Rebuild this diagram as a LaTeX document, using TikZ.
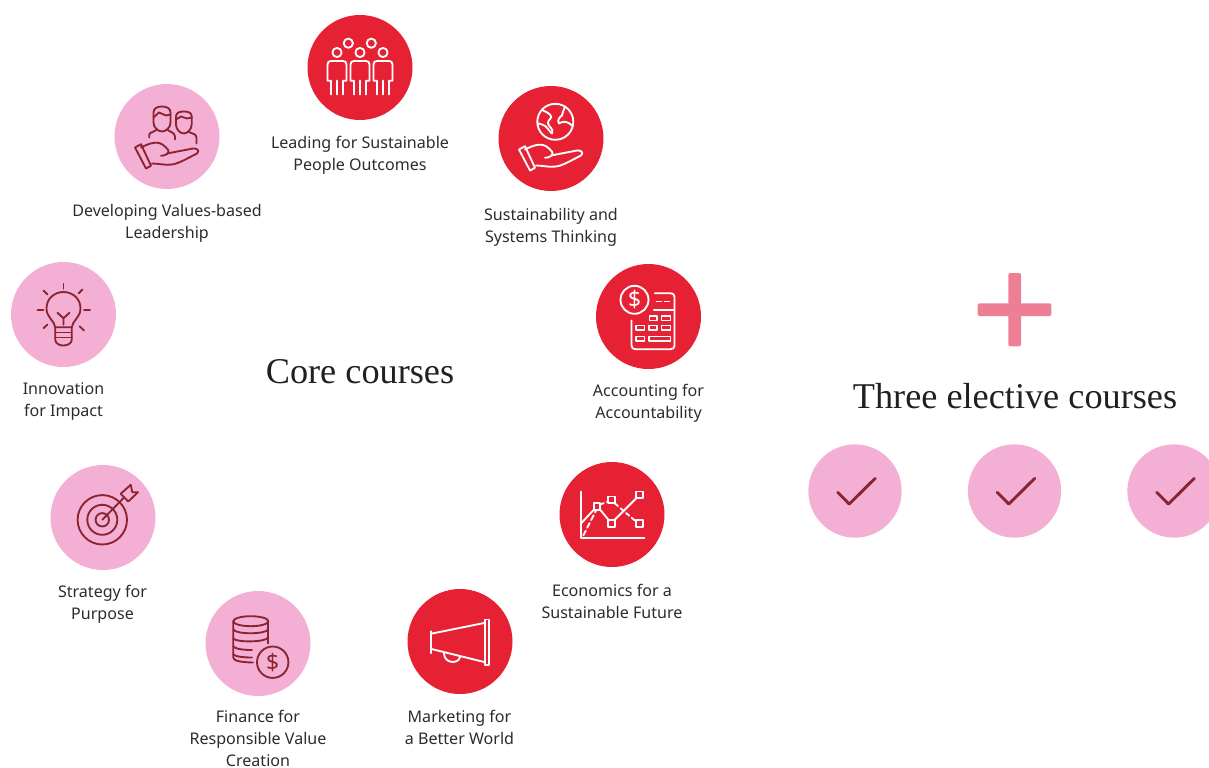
\documentclass[tikz,border=0pt]{standalone}
\usepackage{fontspec}
\setmainfont{Liberation Serif}
\setsansfont{Noto Sans}
\usetikzlibrary{positioning}
\definecolor{corered}{HTML}{E62134}
\definecolor{corepink}{HTML}{F4B0D4}
\definecolor{plusrose}{HTML}{EE7E95}
\definecolor{icondark}{HTML}{8C2330}
\definecolor{labelgrey}{HTML}{2C2C2E}
\definecolor{titleblack}{HTML}{231F20}

\tikzset{
	redcircle/.style={circle, fill=corered, minimum size=78.75pt, inner sep=0pt},
	pinkcircle/.style={circle, fill=corepink, minimum size=78.75pt, inner sep=0pt},
	tickcircle/.style={circle, fill=corepink, minimum size=70pt, inner sep=0pt},
	coursetext/.style={align=center, inner sep=0pt, text=labelgrey, font=\sffamily\fontsize{12.05}{16.5}\selectfont},
	titletext/.style={text=titleblack, font=\rmfamily\fontsize{27.2}{30}\selectfont},
	whiteicon/.style={color=white, line width=1.4pt, line join=round, line cap=round},
	darkicon/.style={color=icondark, line width=1.4pt, line join=round, line cap=round},
	hand/.pic={
		\draw (-32,11)--(-26,7.7)--(-16,29.3)--(-21,32)--cycle;
		\draw (-26,11) .. controls (-18,7) and (-9,3) .. (-2,10) .. controls (0,12) and (3,14) .. (0.7,17) .. controls (-1,19) and (-4,19) .. (-6,19.3);
		\draw (0,17)--(26,12) .. controls (30,11.5) and (33,14) .. (30,17) .. controls (20,22) and (12,27) .. (5,28) .. controls (-2,29) and (-8,27) .. (-15,27);
	},
	dollar/.pic={
		\draw (0,0) circle (#1);
		\node[inner sep=0pt, font=\sffamily\fontsize{17}{17}\selectfont] (-sign) at (0,0) {\$};
	},
	people/.pic={
		\foreach \x in {-23,0,23}{
			\draw (\x,-15) circle (4.6);
			\draw (\x-6,27)--(\x-6,13.3)--(\x-9.5,13.3)--(\x-9.5,-3) .. controls (\x-9.5,-5.5) and (\x-8,-6.5) .. (\x-6,-6.5)--(\x+6,-6.5) .. controls (\x+8,-6.5) and (\x+9.5,-5.5) .. (\x+9.5,-3)--(\x+9.5,13.3)--(\x+6,13.3)--(\x+6,27);
			\draw (\x,13)--(\x,27);
		}
		\draw (-11.7,-24.3) circle (4.6);
		\draw (11.3,-24.3) circle (4.6);
	},
	leaders/.pic={
		\draw (-13.5,-14)--(-13.5,-24) .. controls (-13.5,-28) and (-10,-30) .. (-5,-30) .. controls (0,-30) and (3.5,-28) .. (3.5,-24)--(3.5,-14) .. controls (3.5,-9) and (-1,-5) .. (-5,-5) .. controls (-9,-5) and (-13.5,-9) .. (-13.5,-14);
		\draw (-13.5,-19)--(-8,-24)--(-1,-21)--(3.5,-22);
		\draw (-17.7,1)--(-17.7,-2) .. controls (-17.7,-4) and (-12,-5) .. (-10,-7);
		\draw (0,-7) .. controls (2,-5) and (8,-4) .. (8,0)--(8,3);
		\draw (9,-12)--(9,-20) .. controls (9,-24) and (13,-25) .. (17,-25) .. controls (21,-25) and (24.7,-24) .. (24.7,-20)--(24.7,-12) .. controls (24.7,-7) and (20,-3) .. (17,-3) .. controls (13,-3) and (9,-7) .. (9,-12);
		\draw (9,-17)--(14,-20)--(20,-18)--(24.7,-19);
		\draw (21,-5) .. controls (24,-3) and (29.5,-3) .. (29.5,1)--(29.5,7);
		\pic {hand};
	},
	globe/.pic={
		\draw (4.3,-16.7) circle (18);
		\draw (-9,-29) .. controls (-6,-26) and (-3,-27) .. (-1,-24) .. controls (3,-20) and (-4,-19) .. (-3,-15) .. controls (-2,-11) and (3,-10) .. (1,-5);
		\draw (1,-5) .. controls (-2,-7) and (-4,-13) .. (-9,-14) .. controls (-11,-14.5) and (-12,-15) .. (-13,-15);
		\draw (14,-32) .. controls (13,-28) and (11,-26) .. (11,-23) .. controls (8,-21) and (6,-18) .. (8,-15) .. controls (12,-18) and (17,-17) .. (21,-13);
		\pic {hand};
	},
	calculator/.pic={
		\pic at (-14,-16.7) {dollar=14};
		\draw (6.3,-23.3)--(22,-23.3) .. controls (24.5,-23.3) and (26,-22) .. (26,-19.5)--(26,29) .. controls (26,31.5) and (24.5,32.7) .. (22,32.7)--(-13,32.7) .. controls (-15.5,32.7) and (-17,31.5) .. (-17,29)--(-17,4);
		\draw (5.3,-6.7)--(26,-6.7);
		\draw (8,-15)--(12.7,-15) (16,-15)--(20.7,-15);
		\foreach \l/\r/\y in {1/8.7/1.7, 13/22/1.7, -12.3/-4/11.3, 0.3/8.7/11.3, 13/22/11.3, -12.3/-4/22.3, 0.3/22/22.3}
			\draw (\l,\y-2.3) rectangle (\r,\y+2.3);
	},
	bulb/.pic={
		\draw (-8.3,12.7) .. controls (-9,6) and (-17,3) .. (-17,-6) .. controls (-17,-16) and (-9,-22.5) .. (0,-22.5) .. controls (9,-22.5) and (17,-16) .. (17,-6) .. controls (17,3) and (9,6) .. (8.3,12.7)--cycle;
		\draw (-8.3,12.7)--(-8.3,25) .. controls (-8.3,29) and (-4,31) .. (0,31) .. controls (4,31) and (8.3,29) .. (8.3,25)--(8.3,12.7);
		\draw (-8.3,18)--(8.3,18) (-8.3,23)--(8.3,23);
		\draw (-6,-1.7)--(0,3.7)--(6,-1.7) (0,3.7)--(0,10.3);
		\draw (0,-30.7)--(0,-25.7) (-26,-4.7)--(-20,-4.7) (20.5,-4.7)--(26.5,-4.7);
		\draw (-20,-24)--(-16,-20) (19,-25)--(15,-21) (-20,13.7)--(-16,10) (20.5,16)--(16,11.7);
	},
	target/.pic={
		\draw (-0.7,2.3) circle (24.7) (-0.7,2.3) circle (15) (-0.7,2.3) circle (6.7);
		\draw (-0.7,2.3)--(21,-20);
		\draw (17.7,-23.7)--(27.7,-32.7)--(29.3,-25.3)--(35,-25.3)--(25.3,-16)--cycle;
	},
	coins/.pic={
		\draw (-7.2,-22.3) ellipse (17.5 and 5);
		\draw (-24.7,-22.3)--(-24.7,14) .. controls (-24.7,17) and (-19,18.7) .. (-5,19);
		\draw (10.3,-22.3)--(10.3,0);
		\draw (-24.7,-14) .. controls (-22,-9) and (7,-9) .. (10.3,-14);
		\draw (-24.7,-5) .. controls (-22,-1) and (7,-1) .. (10.3,-6);
		\draw (-24.7,3) .. controls (-22,6) and (-12,6.5) .. (-6,6.5);
		\draw (-24.7,11) .. controls (-22,13.5) and (-12,14) .. (-6,14);
		\pic at (14.7,18.7) {dollar=15.7};
	},
	megaphone/.pic={
		\draw (-29.3,-10.3)--(-29.3,11.7);
		\draw (-29.3,-7.7)--(25,-18.7) (-29.3,7.3)--(25,20.7);
		\draw (25,-22) rectangle (29.3,23.7);
		\draw (-16,11.7) .. controls (-16,22) and (-2,23) .. (0,15.7);
	},
	chart/.pic={
		\draw (-31.3,-23)--(-31.3,23.7)--(32.3,23.7);
		\draw (-31.3,9.3)--(-18,-5) (-12,-5)--(-3,6) (2,6)--(25,-17);
		\draw[dashed, dash pattern=on 4pt off 2.5pt] (-28.7,21)--(-16,-4);
		\draw[dashed, dash pattern=on 3pt off 2.5pt] (-12,-10)--(-4,-13) (3,-11)--(24,7);
		\foreach \x/\y in {-15/-8, -0.3/-14.7, -0.7/9, 27.3/-19.7, 27.3/9}
			\draw (\x-3.3,\y-3.3) rectangle (\x+3.3,\y+3.3);
	},
}

\begin{document}
\begin{tikzpicture}[x=0.75pt, y=-0.75pt]
	\useasboundingbox (0,0) rectangle (1209,767);

	% core courses
	\node[redcircle] (peoplecircle) at (360,67.5) {};
	\node[pinkcircle] (leaderscircle) at (167,136.5) {};
	\node[redcircle] (globecircle) at (551,138.5) {};
	\node[redcircle] (calccircle) at (648.5,316.5) {};
	\node[pinkcircle] (bulbcircle) at (63.5,314.5) {};
	\node[pinkcircle] (targetcircle) at (103,517.5) {};
	\node[pinkcircle] (coinscircle) at (258,643.5) {};
	\node[redcircle] (megacircle) at (460,641.5) {};
	\node[redcircle] (chartcircle) at (612,514.5) {};

	\pic[whiteicon] at (peoplecircle) {people};
	\pic[darkicon] at (leaderscircle) {leaders};
	\pic[whiteicon] at (globecircle) {globe};
	\pic[whiteicon] at (calccircle) {calculator};
	\pic[darkicon] at (bulbcircle) {bulb};
	\pic[darkicon] at (targetcircle) {target};
	\pic[darkicon] at (coinscircle) {coins};
	\pic[whiteicon] at (megacircle) {megaphone};
	\pic[whiteicon] at (chartcircle) {chart};

	\node[coursetext] (peopletext) at (360,155) {Leading for Sustainable\\People Outcomes};
	\node[coursetext] (leaderstext) at (167,223) {Developing Values-based\\Leadership};
	\node[coursetext] (globetext) at (551,227) {Sustainability and\\Systems Thinking};
	\node[coursetext] (calctext) at (648.5,403) {Accounting for\\Accountability};
	\node[coursetext] (bulbtext) at (63.5,401.5) {Innovation\\for Impact};
	\node[coursetext] (targettext) at (102.5,604) {Strategy for\\Purpose};
	\node[coursetext] (coinstext) at (258,738.8) {Finance for\\Responsible Value\\Creation};
	\node[coursetext] (megatext) at (459.5,727) {Marketing for\\a Better World};
	\node[coursetext] (charttext) at (612,601) {Economics for a\\Sustainable Future};

	\node[titletext] (coretitle) at (360,372) {Core courses};

	% electives
	\fill[plusrose, rounded corners=1.5pt] (1008.3,273) rectangle (1021,346.3);
	\fill[plusrose, rounded corners=1.5pt] (977.7,303.3) rectangle (1051.3,316);
	\node[titletext] (electivetitle) at (1015,396) {Three elective courses};

	\foreach \x/\n in {855/one, 1014.5/two, 1174/three}{
		\node[tickcircle] (tick\n) at (\x,491) {};
		\draw[icondark, line width=2.2pt, line cap=round, line join=round] (\x-17.3,492.3)--(\x-5.7,504)--(\x+20.3,478.3);
	}
\end{tikzpicture}
\end{document}
